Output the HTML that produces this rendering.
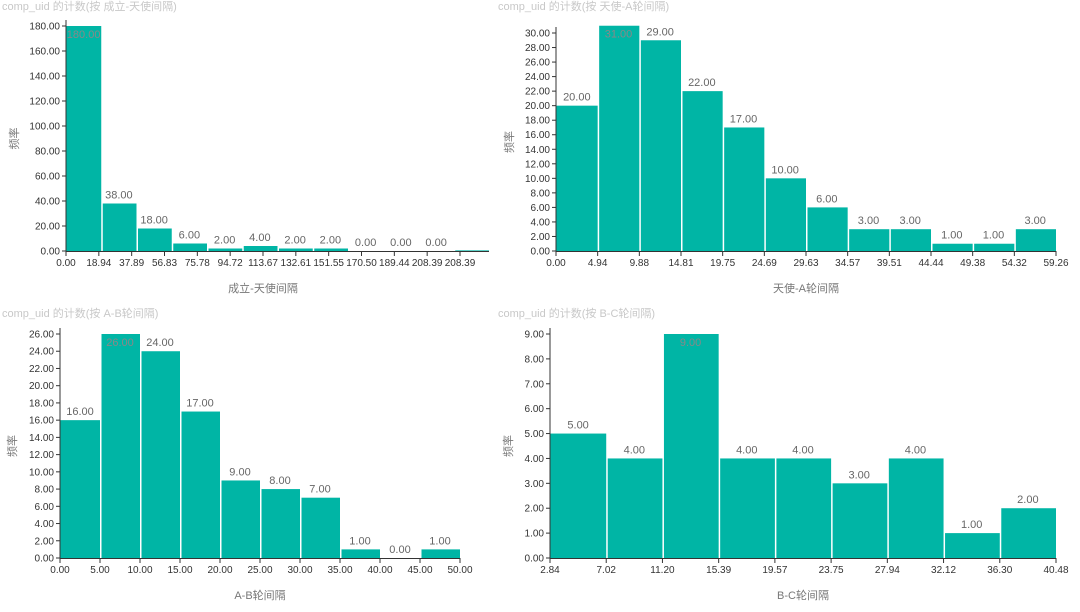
<!DOCTYPE html>
<html><head><meta charset="utf-8"><style>
body{margin:0;background:#fff;width:1080px;height:612px;overflow:hidden}
svg{display:block;font-family:"Liberation Sans","Noto Sans CJK SC",sans-serif}
</style></head><body>
<svg id="s" width="1080" height="612"></svg>
<script>
const c1Ticks=["0.00","18.94","37.89","56.83","75.78","94.72","113.67","132.61","151.55","170.50","189.44","208.39","208.39"];
const c1Values=[180,38,18,6,2,4,2,2,0,0,0,0.5];
const c1Labels=["180.00","38.00","18.00","6.00","2.00","4.00","2.00","2.00","0.00","0.00","0.00",""];
const c2Ticks=["0.00","4.94","9.88","14.81","19.75","24.69","29.63","34.57","39.51","44.44","49.38","54.32","59.26"];
const c2Values=[20,31,29,22,17,10,6,3,3,1,1,3];
const c3Ticks=["0.00","5.00","10.00","15.00","20.00","25.00","30.00","35.00","40.00","45.00","50.00"];
const c3Values=[16,26,24,17,9,8,7,1,0,1];
const c4Ticks=["2.84","7.02","11.20","15.39","19.57","23.75","27.94","32.12","36.30","40.48"];
const c4Values=[5,4,9,4,4,3,4,1,2];

const NS="http://www.w3.org/2000/svg",S=document.getElementById('s');
function mk(t,a,p){const e=document.createElementNS(NS,t);for(const k in a)e.setAttribute(k,a[k]);(p||S).appendChild(e);return e;}
function chart(o){
  const g=mk('g',{});
  
  
  const ys=v=>o.y0-(v/o.ymax)*(o.y0-o.ytop);
  const tt=mk('text',{x:o.tx,y:o.ty,'font-size':11,fill:'#c8c8c8'},g);tt.textContent=o.title;
  
  // y ticks
  for(let v=0;v<=o.ymax+1e-9;v+=o.ystep){
    const y=ys(v);
    mk('line',{x1:o.x0-4,x2:o.x0,y1:y,y2:y,stroke:'#333'},g);
    const t=mk('text',{x:o.x0-6,y:y+3.5,'font-size':10,fill:'#333','text-anchor':'end'},g);t.textContent=v.toFixed(2);
    
  }
  // bars
  const n=o.values.length,bw=(o.bx1-o.x0)/n;
  o.values.forEach((v,i)=>{
    const x=o.x0+i*bw,y=ys(v);
    const r=mk('rect',{x:x+(i?1.5:0),y:y,width:bw-(i?1.5:0),height:o.y0-y,fill:'#00b5a5'},g);
    
    
    const lab=o.labels?o.labels[i]:v.toFixed(2);
    if(lab){
      const inside=v>=o.ymax*0.97;
      const t=mk('text',{x:x+bw/2,y:inside?y+12:y-5,'font-size':11,fill:inside?'#888':'#666','text-anchor':'middle'},g);t.textContent=lab;
      
    }
  });
  // axes
  mk('line',{x1:o.x0,x2:o.x0,y1:o.ytop-6,y2:o.y0,stroke:'#333'},g);
  const tw=(o.tx1-o.x0)/(o.ticks.length-1);
  mk('line',{x1:o.x0,x2:Math.max(o.tx1,o.bx1),y1:o.y0+0.5,y2:o.y0+0.5,stroke:'#333'},g);
  o.ticks.forEach((s,i)=>{
    const x=o.x0+i*tw;
    mk('line',{x1:x,x2:x,y1:o.y0,y2:o.y0+5,stroke:'#333'},g);
    const t=mk('text',{x:x,y:o.y0+15,'font-size':10,fill:'#333','text-anchor':'middle'},g);t.textContent=s;
    
  });
  const xt=mk('text',{x:(o.x0+o.tx1)/2,y:o.y0+41,'font-size':11,fill:'#777','text-anchor':'middle'},g);xt.textContent=o.xtitle;
  
  const yt=mk('text',{x:0,y:0,'font-size':11,fill:'#777','text-anchor':'middle',transform:`translate(${o.ylx},${(o.ytop+o.y0)/2}) rotate(-90)`},g);yt.textContent='频率';
  
}
chart({name:'chart-company-angel',title:'comp_uid 的计数(按 成立-天使间隔)',tx:2,ty:10,x0:66,bx1:489,tx1:460,y0:251,ytop:26,ymax:180,ystep:20,values:c1Values,labels:c1Labels,ticks:c1Ticks,xtitle:'成立-天使间隔',ylx:18});
chart({name:'chart-angel-a',title:'comp_uid 的计数(按 天使-A轮间隔)',tx:498,ty:10,x0:556,bx1:1056,tx1:1056,y0:251,ytop:33,ymax:30,ystep:2,values:c2Values,ticks:c2Ticks,xtitle:'天使-A轮间隔',ylx:513});
chart({name:'chart-a-b',title:'comp_uid 的计数(按 A-B轮间隔)',tx:2,ty:317,x0:60,bx1:460,tx1:460,y0:558,ytop:334,ymax:26,ystep:2,values:c3Values,ticks:c3Ticks,xtitle:'A-B轮间隔',ylx:16});
chart({name:'chart-b-c',title:'comp_uid 的计数(按 B-C轮间隔)',tx:498,ty:317,x0:550,bx1:1056,tx1:1056,y0:558,ytop:334,ymax:9,ystep:1,values:c4Values,ticks:c4Ticks,xtitle:'B-C轮间隔',ylx:512});
</script>
</body></html>
